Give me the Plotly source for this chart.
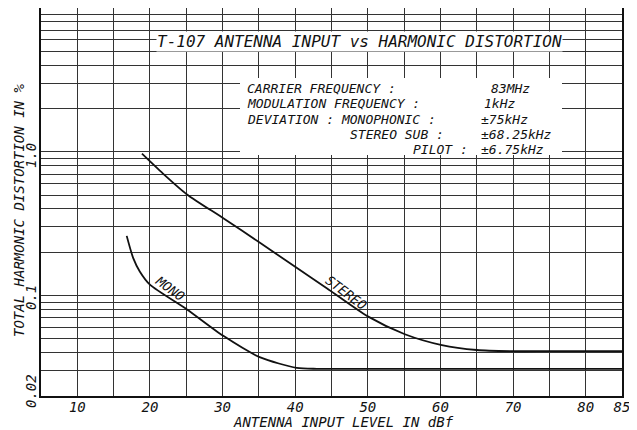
import plotly.graph_objects as go

# ---- data ----
mono_x = [16.8, 17.7, 18.6, 20.0, 25.1, 30.1, 35.2, 40.2, 43.0, 50.0, 60.0, 70.0, 85.0]
mono_y = [0.26, 0.182, 0.147, 0.119, 0.080, 0.0524, 0.0371, 0.0314, 0.0309, 0.0309, 0.0309, 0.0309, 0.0309]

stereo_x = [18.9, 21.8, 25.1, 30.1, 35.2, 40.2, 44.4, 50.0, 55.1, 60.2, 65.0, 69.6, 75.0, 85.0]
stereo_y = [0.97, 0.705, 0.505, 0.345, 0.232, 0.156, 0.112, 0.0716, 0.0538, 0.0452, 0.0418, 0.041, 0.041, 0.041]

x_grid = list(range(5, 90, 5))
x_labels = ["" if v not in (10, 20, 30, 40, 50, 60, 70, 80, 85) else str(v) for v in x_grid]

y_grid = [m * d for d in (0.01, 0.1, 1.0) for m in range(1, 10) if m * d >= 0.02 - 1e-9] + [10.0]
y_tick_labels = ["1.0", "0.1", "0.02"]

title_text = "T-107 ANTENNA INPUT vs HARMONIC DISTORTION"
info_left = [
    ("CARRIER FREQUENCY :", 245, 88.5),
    ("MODULATION FREQUENCY :", 245, 103.8),
    ("DEVIATION : MONOPHONIC :", 245, 119.1),
    ("STEREO SUB :", 348, 134.4),
    ("PILOT :", 411, 149.7),
]
info_right = [
    ("83MHz", 489, 88.5),
    ("1kHz", 482, 103.8),
    ("±75kHz", 479, 119.1),
    ("±68.25kHz", 479, 134.4),
    ("±6.75kHz", 479, 149.7),
]

# ---- layout geometry (page body has an 8px margin) ----
OFF = 8
W, H = 637 - OFF, 430 - OFF
X0, X1, Y0, Y1 = 41, 622, 8, 396          # plot area in window pixels
L, R, T, B = X0 - OFF, W - (X1 - OFF), Y0 - OFF, H - (Y1 - OFF)
PW, PH = X1 - X0, Y1 - Y0


def px(x):
    return (x - X0) / PW


def py(y):
    return (Y1 - y) / PH


FONT = "DejaVu Sans Mono"
ink = "#111111"


def f(size):
    return dict(family=FONT, size=size, color=ink, style="italic")


fig = go.Figure()
fig.add_trace(go.Scatter(x=mono_x, y=mono_y, mode="lines",
                         line=dict(color=ink, width=1.8, shape="spline", smoothing=0.7),
                         showlegend=False, hoverinfo="skip"))
fig.add_trace(go.Scatter(x=stereo_x, y=stereo_y, mode="lines",
                         line=dict(color=ink, width=1.8, shape="spline", smoothing=0.7),
                         showlegend=False, hoverinfo="skip"))

ann = []
ann.append(dict(text=title_text, x=px(359), y=py(41), xref="paper", yref="paper",
                xanchor="center", yanchor="middle", showarrow=False, bgcolor="white",
                borderpad=0, font=f(16)))
for t, x, y in info_left + info_right:
    ann.append(dict(text=t, x=px(x), y=py(y), xref="paper", yref="paper",
                    xanchor="left", yanchor="middle", showarrow=False, font=f(13)))
ann.append(dict(text="MONO", x=px(170), y=py(288), xref="paper", yref="paper",
                xanchor="center", yanchor="middle", showarrow=False, textangle=36, font=f(13)))
ann.append(dict(text="STEREO", x=px(346), y=py(292), xref="paper", yref="paper",
                xanchor="center", yanchor="middle", showarrow=False, textangle=37, font=f(13)))
ypos = {"1.0": 156, "0.1": 298, "0.02": 391}
for t in y_tick_labels:
    ann.append(dict(text=t, x=px(31), y=py(ypos[t]), xref="paper", yref="paper",
                    showarrow=False, textangle=-90, xanchor="center", yanchor="middle",
                    font=f(14)))
ann.append(dict(text="TOTAL HARMONIC DISTORTION IN %", x=px(19), y=py(211),
                xref="paper", yref="paper", xanchor="center", yanchor="middle",
                showarrow=False, textangle=-90, font=f(14)))
ann.append(dict(text="ANTENNA INPUT LEVEL IN dBf", x=px(343), y=py(422),
                xref="paper", yref="paper", xanchor="center", yanchor="middle",
                showarrow=False, font=f(14)))

fig.update_layout(
    width=W, height=H,
    margin=dict(l=L, r=R, t=T, b=B, autoexpand=False),
    paper_bgcolor="white", plot_bgcolor="white",
    annotations=ann,
    shapes=[dict(type="rect", xref="paper", yref="paper",
                 x0=px(240), x1=px(562), y0=py(155), y1=py(78),
                 fillcolor="white", line=dict(width=0), layer="above")],
    xaxis=dict(range=[5, 85], tickmode="array", tickvals=x_grid, ticktext=x_labels,
               showgrid=True, gridcolor="#333333", gridwidth=1.2, zeroline=False,
               showline=True, mirror=True, linecolor=ink, linewidth=1.5, ticks="",
               ticklabelstandoff=-3, tickfont=f(14)),
    yaxis=dict(type="log", range=[-1.69897, 1.0], tickmode="array", tickvals=y_grid,
               showticklabels=False, showgrid=True, gridcolor="#333333", gridwidth=1.2,
               zeroline=False, showline=True, mirror=True, linecolor=ink, linewidth=1.5,
               ticks=""),
)

fig.write_html("out.html")
